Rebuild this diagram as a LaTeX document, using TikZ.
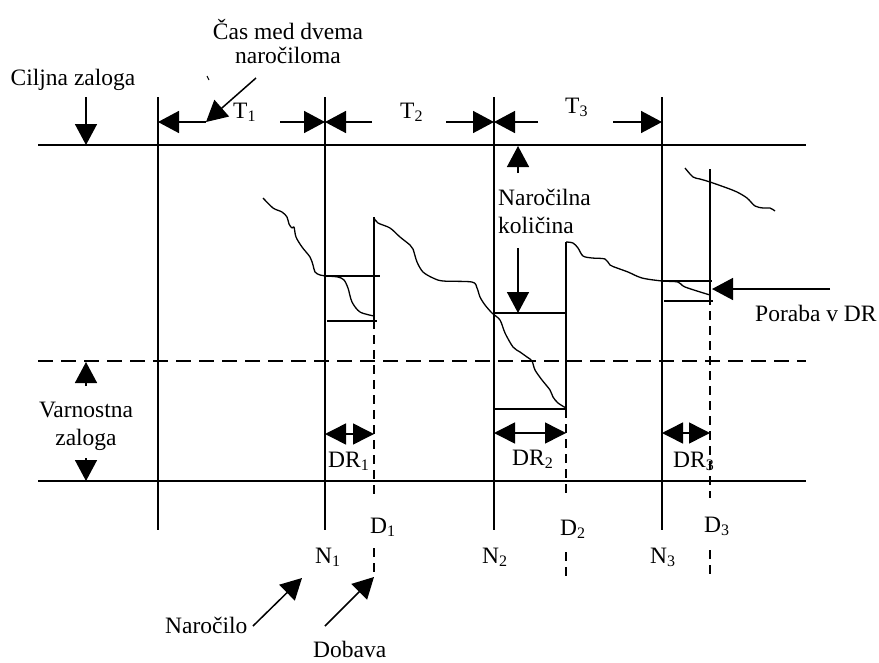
\documentclass[tikz,border=0pt]{standalone}
\usepackage{fontspec}
\setmainfont{Liberation Serif}
\usetikzlibrary{arrows.meta}
\newcommand\subx[1]{\raisebox{-3pt}{\fontsize{16}{16}\selectfont #1}}
\begin{document}
\begin{tikzpicture}[x=1pt,y=-1pt,
  base/.style={line width=1.5pt,line cap=butt},
  axis/.style={base},
  dashaxis/.style={base,dash pattern=on 15pt off 8pt},
  delivery/.style={base,dash pattern=on 9pt off 6pt},
  stock/.style={line width=1.3pt,line join=round},
  arr/.style={base,-{Triangle[length=21pt,width=22pt]}},
  darr/.style={base,{Triangle[length=21pt,width=21pt]}-{Triangle[length=21pt,width=21pt]}},
  lbl/.style={inner sep=0pt,anchor=base west,font=\fontsize{23.5}{28}\selectfont},
  clbl/.style={inner sep=0pt,anchor=base,font=\fontsize{23.5}{28}\selectfont}]
\useasboundingbox (0,0) rectangle (879,662);

% stock levels: target, safety (dashed), zero
\draw[axis] (38,145) coordinate (topL) -- (806,145) coordinate (topR);
\draw[dashaxis] (38,361) coordinate (safeL) -- (806,361) coordinate (safeR);
\draw[axis] (38,481) coordinate (botL) -- (806,481) coordinate (botR);

% order instants
\foreach \n/\x in {0/158,1/325,2/494,3/662}
  \draw[axis] (\x,97) coordinate (n\n top) -- (\x,530) coordinate (n\n bot);

% delivery instants
\draw[axis] (374,217) coordinate (d1a) -- (374,320) coordinate (d1b);
\draw[delivery] (d1b) -- (374,497) coordinate (d1c);
\draw[delivery] (374,548) coordinate (d1d) -- (374,578) coordinate (d1e);
\draw[axis] (566,242) coordinate (d2a) -- (566,409) coordinate (d2b);
\draw[delivery] (d2b) -- (566,498) coordinate (d2c);
\draw[delivery] (566,552) coordinate (d2d) -- (566,578) coordinate (d2e);
\draw[axis] (710,169) coordinate (d3a) -- (710,296) coordinate (d3b);
\draw[delivery] (d3b) -- (710,498) coordinate (d3c);
\draw[delivery] (710,550) coordinate (d3d) -- (710,578) coordinate (d3e);

% consumption during lead time
\draw[axis] (325,276) -- (380,276);
\draw[axis] (327,321) -- (377,321);
\draw[axis] (494,313) -- (566,313);
\draw[axis] (494,409) -- (566,409);
\draw[axis] (662,281) -- (712,281);
\draw[axis] (664,301) -- (713,301);

% stock curve
\draw[stock] plot[smooth,tension=0.5] coordinates {
  (263,198) (273,208) (282,212) (287,217) (289,224) (292,228) (294,227)
  (296,237) (302,247) (310,257) (313,265) (315,272) (320,275) (327,276)
  (338,277) (344,280) (348,288) (352,302) (360,312) (374,316)};
\draw[stock] plot[smooth,tension=0.5] coordinates {
  (374,218) (378,223) (390,228) (400,237) (410,245) (413,249) (417,262)
  (423,272) (433,278) (443,281) (472,282) (477,288) (480,297) (485,305)
  (492,313) (500,320) (505,333) (513,347) (520,352) (527,357) (532,361)
  (535,370) (542,380) (550,390) (553,397) (558,403) (566,408)};
\draw[stock] plot[smooth,tension=0.5] coordinates {
  (566,242) (573,243) (578,248) (583,256) (592,258) (605,259) (610,265)
  (617,268) (628,272) (642,278) (662,281) (678,282) (685,287) (710,295)};
\draw[stock] plot[smooth,tension=0.5] coordinates {
  (685,168) (693,177) (700,179) (710,182) (727,188) (737,192) (747,198)
  (755,206) (763,208) (770,208) (775,211)};

% order cycles T1..T3
\coordinate (t1a) at (206,122); \coordinate (t1b) at (280,122);
\draw[arr] (t1a) -- (158,122);
\draw[arr] (t1b) -- (325,122);
\draw[arr] (372,122) -- (325,122);
\draw[arr] (446,122) -- (494,122);
\draw[arr] (538,122) -- (494,122);
\draw[arr] (613,122) -- (662,122);
\node[lbl] (T1) at (233,118) {T\subx{1}};
\node[lbl] (T2) at (400,118) {T\subx{2}};
\node[lbl] (T3) at (565,113) {T\subx{3}};

% cycle annotation
\node[clbl] (cas1) at (288,39) {Čas med dvema};
\node[clbl] (cas2) at (288,63) {naročiloma};
\coordinate (casA) at (256,78);
\draw[arr] (casA) -- (t1a);
\draw[line width=1pt] (207,76) -- (209,80);

% target stock
\node[clbl] (cilj) at (73,85) {Ciljna zaloga};
\coordinate (ciljA) at (86,97);
\coordinate (ciljB) at (86,145);
\draw[arr] (ciljA) -- (ciljB);

% order quantity
\node[lbl] (kol1) at (498,205) {Naročilna};
\node[lbl] (kol2) at (498,233) {količina};
\coordinate (kolUpA) at (518,173);
\coordinate (kolUpB) at (518,146);
\draw[arr] (kolUpA) -- (kolUpB);
\coordinate (kolDnA) at (518,248);
\coordinate (kolDnB) at (518,313);
\draw[arr] (kolDnA) -- (kolDnB);

% consumption during lead time
\node[lbl] (poraba) at (755,321) {Poraba v DR};
\coordinate (porA) at (830,289);
\coordinate (porB) at (712,289);
\draw[arr] (porA) -- (porB);

% safety stock
\node[clbl] (var1) at (86,417) {Varnostna};
\node[clbl] (var2) at (86,445) {zaloga};
\coordinate (varUpA) at (86,386);
\coordinate (varUpB) at (86,362);
\draw[arr] (varUpA) -- (varUpB);
\coordinate (varDnA) at (86,458);
\coordinate (varDnB) at (86,481);
\draw[arr] (varDnA) -- (varDnB);

% lead times
\draw[darr] (325,434) -- (374,434);
\draw[darr] (494,433) -- (566,433);
\draw[darr] (662,433) -- (710,433);
\node[lbl] (dr1) at (328,467) {DR\subx{1}};
\node[lbl] (dr2) at (512,465) {DR\subx{2}};
\node[lbl] (dr3) at (673,467) {DR\subx{3}};

% instant labels
\node[lbl] (N1) at (315,563) {N\subx{1}};
\node[lbl] (N2) at (482,563) {N\subx{2}};
\node[lbl] (N3) at (650,563) {N\subx{3}};
\node[lbl] (D1) at (370,533) {D\subx{1}};
\node[lbl] (D2) at (560,535) {D\subx{2}};
\node[lbl] (D3) at (704,532) {D\subx{3}};

% order and delivery pointers
\node[lbl] (narocilo) at (165,633) {Naročilo};
\coordinate (narA) at (253,626);
\coordinate (narB) at (302,578);
\draw[arr] (narA) -- (narB);
\node[lbl] (dobava) at (313,657) {Dobava};
\coordinate (dobA) at (325,626);
\coordinate (dobB) at (374,577);
\draw[arr] (dobA) -- (dobB);
\end{tikzpicture}
\end{document}
